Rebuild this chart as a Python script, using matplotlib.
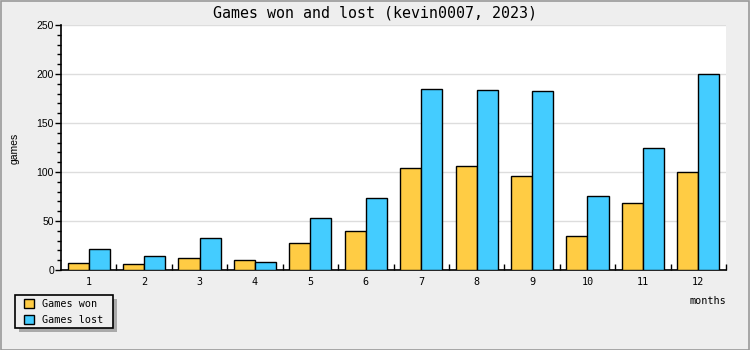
import matplotlib
matplotlib.use("Agg")
import matplotlib.pyplot as plt
import numpy as np
from matplotlib.patches import Rectangle

months = [1, 2, 3, 4, 5, 6, 7, 8, 9, 10, 11, 12]
games_won = [7, 6, 12, 10, 28, 40, 104, 106, 96, 35, 68, 100]
games_lost = [21, 14, 33, 8, 53, 73, 185, 184, 183, 76, 125, 200]

mono = "DejaVu Sans Mono"
sans = ["Liberation Sans", "DejaVu Sans"]
col_won = "#ffcc44"
col_lost = "#44ccff"
W, H = 750, 350

fig = plt.figure(figsize=(7.5, 3.5), dpi=100, facecolor="#eeeeee")
ax = fig.add_axes([61 / W, 1 - 270 / H, 665 / W, 245 / H])
ax.set_facecolor("white")

x = np.array(months)
w = 0.38
ax.bar(x - w / 2, games_won, w, color=col_won, edgecolor="black", linewidth=1.0,
       label="Games won", zorder=3)
ax.bar(x + w / 2, games_lost, w, color=col_lost, edgecolor="black", linewidth=1.0,
       label="Games lost", zorder=3)

ax.set_xlim(0.5, 12.5)
ax.set_ylim(0, 250)

# y axis
ax.set_yticks(np.arange(0, 251, 50))
ax.set_yticks(np.arange(0, 251, 10), minor=True)
ax.yaxis.grid(True, which="major", color="#dddddd", linewidth=1.0, zorder=0)
ax.tick_params(axis="y", which="major", direction="out", length=4, width=1,
               labelsize=7.5, pad=1)
ax.tick_params(axis="y", which="minor", direction="out", length=3, width=1)
for lab in ax.get_yticklabels():
    lab.set_family(sans)

# x axis: ticks between groups, labels at centres
ax.set_xticks(np.arange(1.5, 12.6, 1))
ax.set_xticklabels([])
ax.set_xticks(x, minor=True)
ax.set_xticklabels([str(m) for m in months], minor=True, family=mono, fontsize=7.3)
ax.tick_params(axis="x", which="major", direction="in", length=4, width=1)
ax.tick_params(axis="x", which="minor", length=0, pad=5)

for side in ["top", "right"]:
    ax.spines[side].set_visible(False)
for side in ["left", "bottom"]:
    ax.spines[side].set_linewidth(1.2)

fig.text(375 / W, 1 - 13 / H, "Games won and lost (kevin0007, 2023)",
         ha="center", va="center", family=mono, fontsize=10.8)
fig.text(15 / W, 1 - 148 / H, "games", rotation=90, ha="center", va="center",
         family=sans, fontsize=7.5)
fig.text(726 / W, 1 - 301 / H, "months", ha="right", va="center",
         family=mono, fontsize=7.3)

# legend box with shadow
fig.patches.append(Rectangle((19 / W, 1 - 332 / H), 98 / W, 33 / H,
                             transform=fig.transFigure, facecolor="#aaaaaa",
                             edgecolor="none", zorder=1))
fig.patches.append(Rectangle((15 / W, 1 - 328 / H), 98 / W, 33 / H,
                             transform=fig.transFigure, facecolor="#eeeeee",
                             edgecolor="black", linewidth=1.2, zorder=2))
leg = fig.legend(loc="upper left", bbox_to_anchor=(24 / W, 1 - 299 / H),
                 frameon=False, borderaxespad=0, borderpad=0,
                 prop={"family": mono, "size": 7.3}, handlelength=1.0,
                 handleheight=1.0, handletextpad=0.8, labelspacing=0.55)
leg.set_zorder(3)

fig.patches.append(Rectangle((0.5 / W, 0.5 / H), 1 - 1.5 / W, 1 - 1.5 / H,
                             transform=fig.transFigure, fill=False,
                             edgecolor="#999999", linewidth=1.2))

fig.savefig("out.png", dpi=100, facecolor=fig.get_facecolor())
